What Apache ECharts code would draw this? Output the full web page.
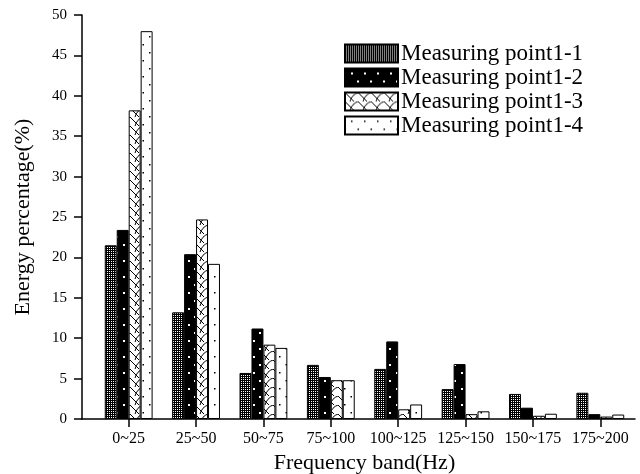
<!DOCTYPE html>
<html>
<head>
<meta charset="utf-8">
<script src="https://cdn.jsdelivr.net/npm/echarts@6/dist/echarts.min.js"></script>
<style>
html,body{margin:0;padding:0;background:#fff;}
#chart{width:640px;height:474px;}
</style>
</head>
<body>
<div id="chart"></div>
<script>
// data
var categories = ['0~25', '25~50', '50~75', '75~100', '100~125', '125~150', '150~175', '175~200'];
var seriesNames = ['Measuring point1-1', 'Measuring point1-2', 'Measuring point1-3', 'Measuring point1-4'];
var point1_1 = [21.5, 13.2, 5.7, 6.7, 6.2, 3.7, 3.1, 3.25];
var point1_2 = [23.4, 20.4, 11.2, 5.2, 9.6, 6.8, 1.4, 0.6];
var point1_3 = [38.2, 24.7, 9.2, 4.8, 1.2, 0.6, 0.4, 0.3];
var point1_4 = [48.0, 19.2, 8.8, 4.8, 1.8, 0.95, 0.65, 0.55];
var yMin = 0, yMax = 50, yStep = 5;

var serif = '"Liberation Serif", "DejaVu Serif", serif';

// fill patterns, drawn on little canvases
function tile(w, h, draw) {
    var c = document.createElement('canvas');
    c.width = w; c.height = h;
    draw(c.getContext('2d'));
    return {image: c, repeat: 'repeat'};
}
var meshFill = tile(2, 2, function (g) {
    g.fillStyle = '#000'; g.fillRect(0, 0, 2, 2);
    g.fillStyle = '#fff'; g.fillRect(1, 1, 1, 1);
});
var blackDots = tile(13, 16, function (g) {
    g.fillStyle = '#000'; g.fillRect(0, 0, 13, 16);
    g.fillStyle = '#fff'; g.fillRect(6, 4, 2, 2); g.fillRect(0, 12, 1, 2); g.fillRect(12, 12, 1, 2);
});
var scaleFill = tile(13, 9, function (g) {
    g.fillStyle = '#fff'; g.fillRect(0, 0, 13, 9);
    g.strokeStyle = '#000'; g.lineWidth = 1;
    g.beginPath();
    g.moveTo(0, 0); g.lineTo(9, 9);
    g.moveTo(13, 0); g.quadraticCurveTo(7, 2, 5, 9);
    g.moveTo(0, 0); g.quadraticCurveTo(-6, 2, -8, 9);
    g.stroke();
});
var whiteDots = tile(13, 16, function (g) {
    g.fillStyle = '#fff'; g.fillRect(0, 0, 13, 16);
    g.fillStyle = '#000'; g.fillRect(6, 4, 1.5, 1.5); g.fillRect(0, 12, 1, 1.5); g.fillRect(12.5, 12, 0.5, 1.5);
});
var fills = [meshFill, blackDots, scaleFill, whiteDots];
var values = [point1_1, point1_2, point1_3, point1_4];

var series = seriesNames.map(function (name, i) {
    return {
        name: name,
        type: 'bar',
        xAxisIndex: 0,
        yAxisIndex: 0,
        barGap: '0%',
        barCategoryGap: '29%',
        itemStyle: {color: fills[i], borderColor: '#000', borderWidth: 1},
        emphasis: {disabled: true},
        data: values[i]
    };
});

var option = {
    animation: false,
    backgroundColor: '#fff',
    textStyle: {fontFamily: serif, color: '#000'},
    grid: [
        {left: 95, right: 6, top: 15, bottom: 55, outerBoundsMode: 'none'},
        {left: 82, right: 5, top: 15, bottom: 55, outerBoundsMode: 'none'}
    ],
    legend: {
        orient: 'vertical',
        left: 344,
        top: 42,
        padding: 0,
        itemWidth: 53,
        itemHeight: 18,
        itemGap: 1,
        icon: 'rect',
        textStyle: {fontFamily: serif, fontSize: 23, color: '#000', padding: [0, 0, 0, -2]},
        data: seriesNames
    },
    xAxis: [
        {
            type: 'category',
            gridIndex: 0,
            data: categories,
            boundaryGap: true,
            name: 'Frequency band(Hz)',
            nameLocation: 'middle',
            nameGap: 31,
            nameTextStyle: {fontFamily: serif, fontSize: 22, color: '#000'},
            axisLine: {show: false},
            axisTick: {show: true, alignWithLabel: true, length: 8, lineStyle: {color: '#000', width: 1.5}},
            axisLabel: {fontFamily: serif, fontSize: 16, color: '#000', margin: 12, interval: 0},
            splitLine: {show: false}
        },
        {
            type: 'value',
            gridIndex: 1,
            min: 0,
            max: 1,
            axisLine: {show: true, onZero: false, lineStyle: {color: '#000', width: 1.5}},
            axisTick: {show: false},
            axisLabel: {show: false},
            splitLine: {show: false}
        }
    ],
    yAxis: [
        {
            type: 'value',
            gridIndex: 0,
            min: yMin,
            max: yMax,
            interval: yStep,
            show: false,
            splitLine: {show: false}
        },
        {
            type: 'value',
            gridIndex: 1,
            min: yMin,
            max: yMax,
            interval: yStep,
            name: 'Energy percentage(%)',
            nameLocation: 'middle',
            nameGap: 48,
            nameTextStyle: {fontFamily: serif, fontSize: 22, color: '#000'},
            axisLine: {show: true, lineStyle: {color: '#000', width: 1.5}},
            axisTick: {show: true, length: 8, lineStyle: {color: '#000', width: 1.5}},
            axisLabel: {fontFamily: serif, fontSize: 15, color: '#000', margin: 15},
            splitLine: {show: false}
        }
    ],
    series: series
};

var chart = echarts.init(document.getElementById('chart'));
chart.setOption(option);
</script>
</body>
</html>
